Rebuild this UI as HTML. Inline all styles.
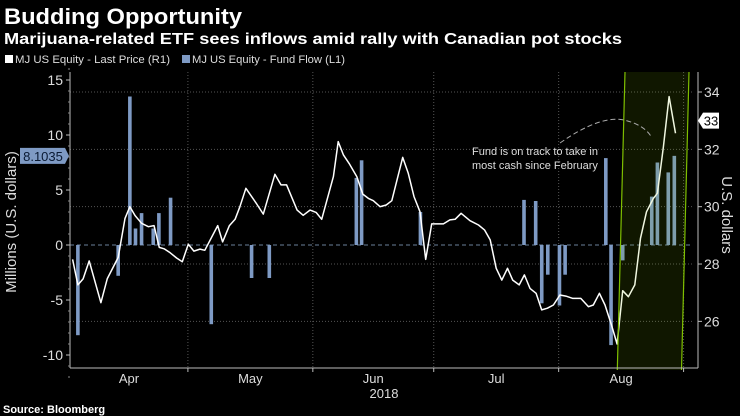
<!DOCTYPE html>
<html><head><meta charset="utf-8"><style>
html,body{margin:0;padding:0;background:#000;}
svg{display:block;font-family:"Liberation Sans",sans-serif;}
</style></head><body>
<svg id="chart" width="740" height="416" viewBox="0 0 740 416" xmlns="http://www.w3.org/2000/svg">
<rect width="740" height="416" fill="#000"/>
<text x="4" y="24" fill="#fff" font-size="22" font-weight="bold" textLength="238" lengthAdjust="spacingAndGlyphs">Budding Opportunity</text>
<text x="4" y="44" fill="#fff" font-size="16" font-weight="bold" textLength="618" lengthAdjust="spacingAndGlyphs">Marijuana-related ETF sees inflows amid rally with Canadian pot stocks</text>
<g>
<rect x="5" y="55" width="8" height="8" fill="#fff"/>
<text x="15" y="63" fill="#ddd" font-size="11" textLength="155" lengthAdjust="spacingAndGlyphs">MJ US Equity - Last Price (R1)</text>
<rect x="182" y="55" width="8" height="8" fill="#7e9ac4"/>
<text x="192" y="63" fill="#ddd" font-size="11" textLength="153" lengthAdjust="spacingAndGlyphs">MJ US Equity - Fund Flow (L1)</text>
</g>
<text transform="translate(16,222) rotate(-90)" text-anchor="middle" fill="#ddd" font-size="15">Millions (U.S. dollars)</text>
<g id="grid"></g>
<g id="bars"></g>
<g id="line"></g>
<g id="band"></g>
<g id="axes"></g>
<text transform="translate(722,215) rotate(90)" text-anchor="middle" fill="#ddd" font-size="15">U.S. dollars</text>
<text x="384" y="398" text-anchor="middle" fill="#ddd" font-size="13">2018</text>
<text x="472" y="155" fill="#ddd" font-size="11">Fund is on track to take in</text>
<text x="472" y="169" fill="#ddd" font-size="11">most cash since February</text>
<path d="M560,143 Q600,115 624,120 Q645,125 652,138" fill="none" stroke="#aaa" stroke-width="1" stroke-dasharray="5,3"/>
<text x="3" y="413" fill="#fff" font-size="11" font-weight="bold">Source: Bloomberg</text>
</svg>
<script>
const priceDays=[1.4,2.7,4.0,5.5,8.4,10.0,12.7,14.4,15.6,16.9,18.5,20.2,21.6,22.9,24.1,25.6,27.2,28.6,30.1,31.5,33.0,34.2,37.4,38.6,40.3,41.7,42.9,44.4,47.1,48.7,51.6,53.1,54.5,57.1,58.6,60.3,61.8,63.2,64.4,66.1,67.3,68.6,70.0,71.9,73.4,74.8,76.0,77.7,79.2,80.6,83.3,84.7,86.1,87.6,89.0,90.5,93.4,95.0,96.3,97.8,100.0,102.1,103.6,105.0,106.5,107.9,109.3,110.6,112.2,113.5,114.9,116.4,117.8,119.2,120.7,122.3,123.8,125.5,127.5,129.4,130.6,132.1,133.5,135.1,136.5,137.9,139.3,140.9,142.3,143.8,145.5,146.5,148.0,149.4,151.0];
const priceValues=[28.16,27.27,27.48,28.11,26.65,27.49,28.23,29.59,30.0,29.69,29.42,29.30,29.34,28.58,28.53,28.39,28.21,28.08,28.69,28.45,28.52,28.48,29.34,28.77,29.34,29.56,30.0,30.64,30.09,29.74,31.13,30.76,30.76,29.88,29.70,29.88,29.80,29.56,30.17,31.05,32.27,31.80,31.51,31.05,30.44,30.29,30.21,30.0,30.06,30.21,31.72,31.16,30.35,29.82,28.16,29.40,29.40,29.54,29.56,29.77,29.51,29.36,29.19,28.84,27.85,27.44,27.85,27.44,27.27,27.62,27.15,26.98,26.40,26.46,26.57,26.92,26.88,26.80,26.80,26.51,26.57,26.98,26.57,25.87,25.21,27.07,26.86,27.27,28.90,29.82,30.29,30.47,32.09,33.84,32.56];
const flowDays=[2.7,12.7,15.6,17.0,18.5,21.4,22.8,25.7,35.8,45.8,50.2,71.8,73.1,87.7,113.4,116.3,117.8,119.3,122.2,123.6,133.7,135.0,137.9,145.1,146.5,149.2,150.7];
const flowValues=[-8.2,-2.8,13.5,1.5,2.9,1.5,2.9,4.3,-7.2,-3.0,-3.0,6.1,7.7,3.0,4.1,4.0,-5.3,-2.7,-5.5,-2.7,7.9,-9.1,-1.4,4.4,7.5,6.6,8.1035];
const leftTicks=[15,10,5,0,-5,-10];
const rightTicks=[34,32,30,28,26];
const monthLabels=['Apr','May','Jun','Jul','Aug'];
const monthStarts=[0,30,61,91,122];
const monthEnds=[30,61,91,122,153];

const NS='http://www.w3.org/2000/svg';
const xS=d=>67+d*4.03;
const yL=v=>245-v*11;
const yR=v=>92+(34-v)*28.67;
function mk(tag,attrs,parent){const e=document.createElementNS(NS,tag);for(const k in attrs)e.setAttribute(k,attrs[k]);document.getElementById(parent).appendChild(e);return e;}
const plotL=70,plotR=692,plotT=72,plotB=368;

rightTicks.forEach(t=>{const g=mk('line',{x1:plotL,x2:plotR,y1:yR(t),y2:yR(t),stroke:'#555','stroke-dasharray':'1,2','stroke-width':1},'grid');

});
monthEnds.forEach(d=>{const g=mk('line',{x1:xS(d),x2:xS(d),y1:plotT,y2:plotB,stroke:'#555','stroke-dasharray':'1,2','stroke-width':1},'grid');

});
const z=mk('line',{x1:plotL,x2:plotR,y1:yL(0),y2:yL(0),stroke:'#6a7f9a','stroke-dasharray':'4,3','stroke-width':1},'grid');



flowDays.forEach((d,i)=>{const v=flowValues[i];const y=Math.min(yL(0),yL(v));
const b=mk('rect',{x:xS(d)-1.8,y:y,width:3.6,height:Math.abs(yL(v)-yL(0)),fill:'#7e9ac4'},'bars');

});

const pts=priceDays.map((d,i)=>xS(d).toFixed(1)+','+yR(priceValues[i]).toFixed(1)).join(' ');
const pl=mk('polyline',{points:pts,fill:'none',stroke:'#fff','stroke-width':1.5,'stroke-linejoin':'round'},'line');



const band=mk('polygon',{points:'625,72 689,72 681.5,370 617.3,370',fill:'rgba(130,190,0,0.12)',stroke:'none'},'band');


const bl=mk('line',{x1:625,y1:72,x2:617.3,y2:370,stroke:'#7fbf00','stroke-width':1.2},'band');


const br=mk('line',{x1:689,y1:72,x2:681.5,y2:370,stroke:'#7fbf00','stroke-width':1.2},'band');



const ax=mk('line',{x1:plotL,x2:698,y1:plotB,y2:plotB,stroke:'#bbb','stroke-width':1},'axes');


const la=mk('line',{x1:plotL,x2:plotL,y1:plotT,y2:plotB,stroke:'#bbb','stroke-width':1},'axes');


const ra=mk('line',{x1:698,x2:698,y1:plotT,y2:plotB,stroke:'#bbb','stroke-width':1},'axes');


leftTicks.forEach(t=>{mk('line',{x1:66,x2:70,y1:yL(t),y2:yL(t),stroke:'#bbb'},'axes');
const tx=mk('text',{x:63,y:yL(t)+5,'text-anchor':'end',fill:'#ddd','font-size':14},'axes');tx.textContent=t;

});
for(let v=-12;v<=16;v++){if(v%5){mk('line',{x1:68,x2:70,y1:yL(v),y2:yL(v),stroke:'#888'},'axes');}}
rightTicks.forEach(t=>{mk('line',{x1:698,x2:702,y1:yR(t),y2:yR(t),stroke:'#bbb'},'axes');
const tx=mk('text',{x:704,y:yR(t)+5,fill:'#ddd','font-size':14},'axes');tx.textContent=t;

});
monthStarts.forEach((s,i)=>{const e=monthEnds[i];
mk('line',{x1:xS(e),x2:xS(e),y1:plotB,y2:plotB+4,stroke:'#bbb'},'axes');
const tx=mk('text',{x:(Math.max(xS(s),plotL)+Math.min(xS(e),692))/2,y:plotB+15,'text-anchor':'middle',fill:'#ddd','font-size':13},'axes');tx.textContent=monthLabels[i];

});

const lastFlow=flowValues[flowValues.length-1];
const fy=yL(lastFlow);
const fb=mk('path',{d:`M20,${fy-8} H65 L69,${fy} L65,${fy+8} H20 Z`,fill:'#7e9ac4'},'axes');


const ft=mk('text',{x:43,y:fy+5,'text-anchor':'middle',fill:'#0a1a33','font-size':13},'axes');ft.textContent=lastFlow.toFixed(4);


const lastPrice=Math.round(priceValues[priceValues.length-1]);
const py=yR(lastPrice);
const pb=mk('path',{d:`M698,${py} L703,${py-8} H719 V${py+8} H703 Z`,fill:'#fff'},'axes');


const pt=mk('text',{x:711,y:py+5,'text-anchor':'middle',fill:'#000','font-size':13},'axes');pt.textContent=lastPrice;


</script>
</body></html>
